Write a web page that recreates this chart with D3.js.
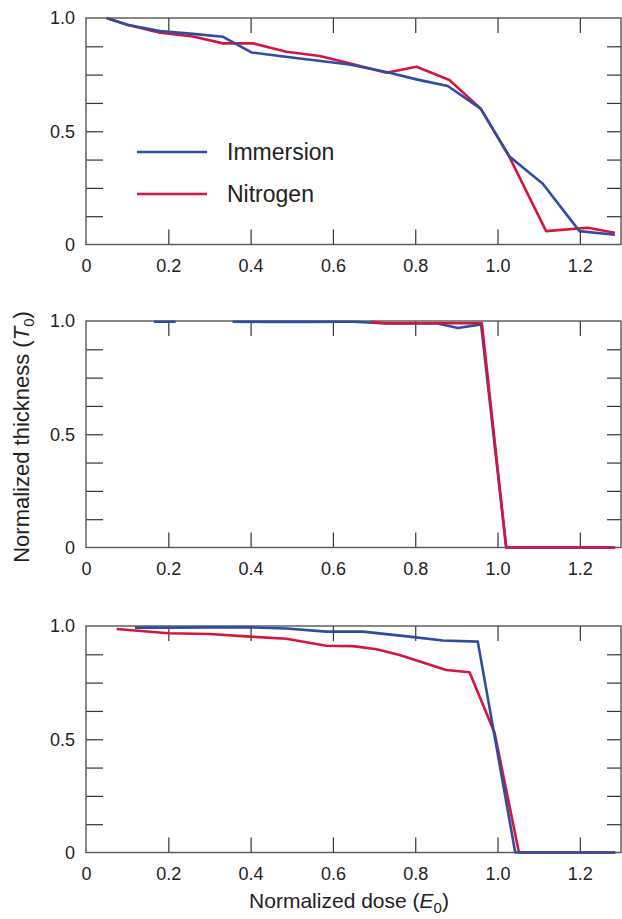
<!DOCTYPE html>
<html>
<head>
<meta charset="utf-8">
<script src="https://cdn.jsdelivr.net/npm/d3@7"></script>
<style>
  body { margin: 0; background: #fff; }
  svg { font-family: "Liberation Sans", Arial, sans-serif; }
</style>
</head>
<body>
<div id="chart"></div>
<script>
// data: [dose, thickness]
const topImmersion = [[0.05,1.0],[0.1,0.97],[0.18,0.942],[0.26,0.93],[0.333,0.917],[0.402,0.848],[0.48,0.83],[0.56,0.812],[0.64,0.795],[0.73,0.762],[0.803,0.729],[0.879,0.70],[0.959,0.60],[1.029,0.389],[1.11,0.268],[1.199,0.059],[1.285,0.043]];
const topNitrogen = [[0.05,1.0],[0.1,0.97],[0.18,0.935],[0.26,0.918],[0.333,0.888],[0.406,0.888],[0.487,0.851],[0.568,0.832],[0.64,0.80],[0.73,0.758],[0.803,0.785],[0.883,0.726],[0.959,0.60],[1.029,0.386],[1.118,0.059],[1.219,0.074],[1.285,0.052]];

const midImmersion = [[0.165,0.997],[0.218,0.997],null,[0.356,0.997],[0.44,0.996],[0.53,0.996],[0.62,0.997],[0.65,0.997],[0.73,0.989],[0.851,0.99],[0.904,0.969],[0.96,0.985],[1.021,0],[1.285,0]];
const midNitrogen = [[0.693,0.996],[0.73,0.99],[0.8,0.99],[0.87,0.99],[0.962,0.99],[1.021,0],[1.286,0]];

const botImmersion = [[0.119,0.993],[0.2,0.993],[0.3,0.994],[0.398,0.994],[0.487,0.989],[0.584,0.975],[0.673,0.975],[0.786,0.953],[0.867,0.936],[0.952,0.931],[1.043,0],[1.286,0]];
const botNitrogen = [[0.0745,0.987],[0.2,0.968],[0.301,0.965],[0.398,0.953],[0.487,0.944],[0.584,0.913],[0.649,0.911],[0.706,0.897],[0.762,0.872],[0.811,0.843],[0.875,0.806],[0.932,0.796],[0.993,0.528],[1.052,0],[1.286,0]];

const xTicks = [0, 0.2, 0.4, 0.6, 0.8, 1.0, 1.2];
const xTickLabels = ["0", "0.2", "0.4", "0.6", "0.8", "1.0", "1.2"];
const yTicks = [0, 0.5, 1.0];
const yTickLabels = ["0", "0.5", "1.0"];
const yMinor = [0.125, 0.25, 0.375, 0.5, 0.625, 0.75, 0.875];
const seriesNames = ["Immersion", "Nitrogen"];

const colors = { Immersion: "#2e4d9f", Nitrogen: "#d4163f" };

const width = 622, height = 919;
const left = 86, right = 621;
const panelTops = [18, 321, 626];
const panelH = 226.5;

const svg = d3.select("#chart").append("svg")
  .attr("width", width).attr("height", height);

const x = d3.scaleLinear().domain([0, 1.3]).range([left, right]);

const panels = [
  { imm: topImmersion, nit: topNitrogen, legend: true },
  { imm: midImmersion, nit: midNitrogen },
  { imm: botImmersion, nit: botNitrogen }
];

panels.forEach((p, i) => {
  const top = panelTops[i], bottom = top + panelH;
  const y = d3.scaleLinear().domain([0, 1]).range([bottom, top]);
  const g = svg.append("g");

  // inward ticks on all four sides
  const tickStyle = sel => {
    sel.select(".domain").remove();
    sel.selectAll("line").attr("stroke", "#333").attr("stroke-width", 1.2);
    sel.selectAll("text").remove();
  };
  g.append("g").attr("transform", `translate(0,${bottom})`)
    .call(d3.axisBottom(x).tickValues(xTicks.slice(1)).tickSize(-15)).call(tickStyle);
  g.append("g").attr("transform", `translate(0,${top})`)
    .call(d3.axisTop(x).tickValues(xTicks.slice(1)).tickSize(-15)).call(tickStyle);
  g.append("g").attr("transform", `translate(${left},0)`)
    .call(d3.axisLeft(y).tickValues(yMinor).tickSize(-17)).call(tickStyle);
  g.append("g").attr("transform", `translate(${right},0)`)
    .call(d3.axisRight(y).tickValues(yMinor).tickSize(-14)).call(tickStyle);

  // frame
  g.append("rect")
    .attr("x", left).attr("y", top)
    .attr("width", right - left).attr("height", panelH)
    .attr("fill", "none").attr("stroke", "#555").attr("stroke-width", 1.4);

  // tick labels
  const xl = g.append("g").attr("transform", `translate(0,${bottom})`)
    .call(d3.axisBottom(x).tickValues(xTicks).tickSize(0)
      .tickFormat((d, k) => xTickLabels[k]));
  xl.select(".domain").remove();
  xl.selectAll("text").attr("y", 15).attr("font-size", 18).attr("fill", "#222")
    .attr("font-family", "Liberation Sans, Arial, sans-serif");

  const yl = g.append("g").attr("transform", `translate(${left},0)`)
    .call(d3.axisLeft(y).tickValues(yTicks).tickSize(0)
      .tickFormat((d, k) => yTickLabels[k]));
  yl.select(".domain").remove();
  yl.selectAll("text").attr("x", -11).attr("font-size", 18).attr("fill", "#222")
    .attr("font-family", "Liberation Sans, Arial, sans-serif");

  const line = d3.line()
    .defined(d => d !== null)
    .x(d => x(d[0])).y(d => y(d[1]));

  const lines = i === 1 ? [["Immersion", p.imm], ["Nitrogen", p.nit]]
                        : [["Nitrogen", p.nit], ["Immersion", p.imm]];
  lines.forEach(([name, data]) => {
    g.append("path").datum(data)
      .attr("d", line)
      .attr("fill", "none")
      .attr("stroke", colors[name])
      .attr("stroke-width", 2.6)
      .attr("stroke-linejoin", "round");
  });

  if (p.legend) {
    seriesNames.forEach((name, k) => {
      const ly = 152 + k * 42;
      g.append("line")
        .attr("x1", 137).attr("x2", 207).attr("y1", ly).attr("y2", ly)
        .attr("stroke", colors[name]).attr("stroke-width", 2.6);
      g.append("text")
        .attr("x", 227).attr("y", ly + 8)
        .attr("font-size", 23).attr("fill", "#222")
        .text(name);
    });
  }
});

// axis titles
const yt = svg.append("text")
  .attr("transform", "translate(29,437) rotate(-90)")
  .attr("text-anchor", "middle")
  .attr("font-size", 22).attr("fill", "#222");
yt.append("tspan").text("Normalized thickness (");
yt.append("tspan").attr("font-style", "italic").text("T");
yt.append("tspan").attr("font-size", 15).attr("dy", 5).text("0");
yt.append("tspan").attr("dy", -5).text(")");

const xt = svg.append("text")
  .attr("x", 349).attr("y", 908)
  .attr("text-anchor", "middle")
  .attr("font-size", 21).attr("fill", "#222");
xt.append("tspan").text("Normalized dose (");
xt.append("tspan").attr("font-style", "italic").text("E");
xt.append("tspan").attr("font-size", 15).attr("dy", 5).text("0");
xt.append("tspan").attr("dy", -5).text(")");
</script>
</body>
</html>
